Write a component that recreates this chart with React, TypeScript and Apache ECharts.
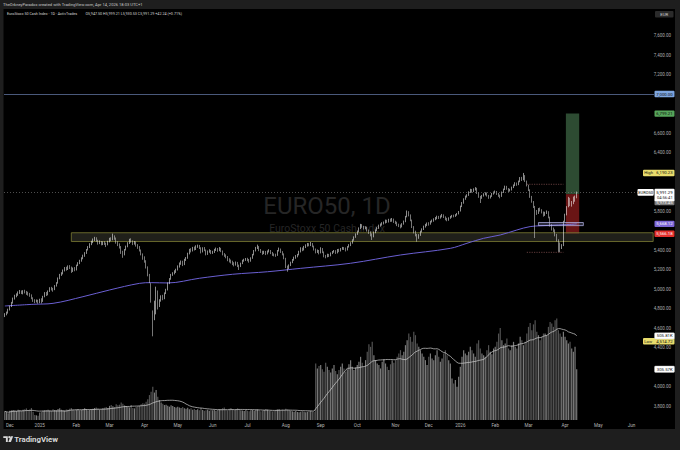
import React, { useEffect, useRef } from "react";
import * as echarts from "echarts";

// ---------- texts ----------
const HEADER_TEXT = "TheOrkneyParadox created with TradingView.com, Apr 14, 2026 18:03 UTC+1";
const SYMBOL_TEXT = "EuroStoxx 50 Cash Index · 1D · ActivTrades";
const OHLC_TEXT = "O5,947.50 H5,999.21 L5,930.53 C5,991.29 +42.24 (+0.71%)";
const WATERMARK = "EURO50, 1D";
const WATERMARK_SUB = "EuroStoxx 50 Cash Index";
const FOOTER = "TradingView";
const CURRENCY = "EUR";
const MONTH_NAMES = ["Jan", "Feb", "Mar", "Apr", "May", "Jun", "Jul", "Aug", "Sep", "Oct", "Nov", "Dec"];

// ---------- calendar ----------
const FIRST_DAY = "2024-11-27";
const SLOT_COUNT = 391;
const HOLIDAYS = [
  "2024-12-24", "2024-12-25", "2024-12-26", "2024-12-31", "2025-01-01", "2025-04-18", "2025-04-21",
  "2025-05-01", "2025-12-24", "2025-12-25", "2025-12-26", "2025-12-31", "2026-01-01", "2026-04-03",
  "2026-04-06", "2026-05-01",
];

// ---------- daily candles [open, close, low, high] ----------
const nov2024 = [[4725,4740,4712,4752],[4742,4751,4730,4768],[4755,4790,4748,4798]];
const dec2024 = [[4795,4818,4780,4830],[4822,4860,4815,4868],[4862,4900,4850,4912],[4905,4930,4892,4941],[4928,4938,4915,4955],[4940,4965,4930,4975],[4968,4972,4950,4990],[4975,4960,4948,4985],[4958,4975,4945,4988],[4978,4968,4955,4992],[4965,4962,4940,4980],[4960,4950,4932,4972],[4948,4938,4920,4960],[4935,4905,4895,4945],[4902,4885,4868,4915],[4882,4870,4855,4895],[4872,4880,4862,4892],[4882,4862,4850,4890]];
const jan2025 = [[4870,4887,4855,4900],[4890,4870,4852,4905],[4875,4920,4868,4930],[4925,4956,4915,4968],[4958,4940,4928,4970],[4945,4975,4935,4985],[4978,5007,4970,5018],[5010,5000,4985,5022],[4998,4990,4972,5012],[4995,5030,4988,5040],[5035,5058,5025,5070],[5062,5110,5055,5118],[5112,5144,5100,5155],[5148,5160,5135,5172],[5162,5190,5150,5200],[5195,5212,5180,5225],[5215,5200,5188,5228],[5205,5230,5195,5242],[5232,5223,5205,5245],[5220,5180,5165,5230],[5185,5210,5175,5220],[5212,5195,5182,5225]];
const feb2025 = [[5200,5240,5190,5250],[5245,5264,5235,5275],[5268,5290,5255,5300],[5292,5315,5280,5325],[5318,5340,5305,5352],[5345,5366,5330,5378],[5370,5400,5360,5410],[5405,5428,5395,5440],[5432,5460,5420,5470],[5462,5485,5450,5495],[5488,5505,5470,5518],[5508,5520,5492,5535],[5522,5500,5485,5530],[5498,5470,5455,5505],[5472,5485,5460,5498],[5482,5460,5448,5492],[5462,5475,5450,5488],[5478,5469,5452,5490],[5465,5455,5430,5475],[5458,5485,5448,5495]];
const mar2025 = [[5490,5510,5478,5525],[5512,5503,5490,5530],[5508,5540,5500,5568],[5538,5520,5505,5550],[5518,5480,5465,5528],[5478,5455,5440,5490],[5452,5434,5415,5468],[5430,5380,5360,5440],[5375,5349,5320,5392],[5355,5400,5345,5410],[5405,5434,5395,5445],[5438,5470,5428,5480],[5472,5503,5462,5515],[5505,5490,5475,5520],[5488,5469,5450,5498],[5472,5480,5455,5492],[5478,5451,5435,5488],[5448,5430,5412,5460],[5428,5400,5385,5440],[5395,5360,5345,5405],[5355,5315,5300,5365]];
const apr2025 = [[5320,5290,5270,5335],[5285,5229,5210,5295],[5225,5150,5130,5232],[5145,5092,5060,5155],[5040,4880,4860,5060],[4700,4650,4514.72,4780],[4700,4800,4680,4880],[4760,5000,4740,5024],[4960,4818,4790,4985],[4830,4880,4815,4895],[4885,4921,4870,4935],[4925,4900,4885,4940],[4905,4956,4895,4965],[4960,4990,4948,5002],[4995,5058,4985,5068],[5062,5100,5050,5112],[5105,5144,5095,5155],[5148,5160,5135,5172],[5162,5180,5150,5192],[5182,5195,5165,5208]];
const may2025 = [[5200,5230,5190,5242],[5235,5260,5220,5272],[5262,5280,5248,5292],[5278,5250,5235,5290],[5255,5300,5245,5310],[5302,5315,5288,5328],[5318,5360,5310,5372],[5362,5400,5355,5412],[5402,5390,5375,5418],[5392,5420,5385,5432],[5422,5410,5395,5435],[5412,5434,5400,5448],[5436,5440,5422,5455],[5442,5425,5410,5452],[5420,5380,5365,5428],[5385,5417,5375,5428],[5420,5400,5388,5430],[5398,5360,5345,5405],[5365,5383,5350,5395],[5385,5395,5372,5408],[5392,5370,5358,5400]];
const jun2025 = [[5372,5380,5360,5392],[5382,5400,5370,5412],[5402,5410,5390,5425],[5412,5395,5382,5420],[5398,5417,5388,5430],[5415,5390,5378,5422],[5388,5360,5345,5395],[5358,5345,5330,5368],[5348,5331,5315,5355],[5328,5300,5285,5338],[5302,5290,5272,5315],[5292,5280,5262,5302],[5278,5264,5245,5290],[5262,5250,5232,5275],[5252,5270,5240,5282],[5268,5240,5225,5278],[5238,5229,5195,5250],[5232,5260,5225,5270],[5262,5290,5255,5300],[5292,5297,5280,5310],[5300,5305,5288,5318]];
const jul2025 = [[5308,5300,5285,5320],[5298,5285,5270,5308],[5288,5315,5280,5325],[5318,5350,5310,5360],[5352,5390,5345,5400],[5392,5420,5385,5432],[5422,5434,5410,5455],[5432,5400,5388,5440],[5398,5385,5370,5410],[5382,5366,5350,5392],[5368,5380,5358,5392],[5382,5360,5348,5390],[5362,5383,5355,5395],[5385,5395,5375,5408],[5392,5370,5358,5400],[5372,5355,5340,5380],[5352,5349,5335,5365],[5350,5345,5330,5362],[5348,5390,5340,5400],[5392,5410,5385,5425],[5408,5383,5370,5415],[5380,5360,5345,5388],[5358,5320,5305,5365]];
const aug2025 = [[5315,5230,5215,5320],[5225,5212,5177,5240],[5215,5240,5205,5252],[5242,5270,5235,5280],[5272,5297,5265,5308],[5300,5320,5290,5332],[5322,5335,5310,5348],[5338,5349,5325,5360],[5352,5380,5345,5392],[5382,5417,5375,5428],[5415,5400,5388,5425],[5402,5430,5395,5442],[5432,5445,5420,5458],[5448,5460,5435,5472],[5458,5450,5438,5470],[5452,5469,5440,5482],[5465,5440,5428,5472],[5438,5410,5395,5445],[5408,5380,5365,5415],[5382,5395,5370,5405],[5392,5370,5355,5400]];
const sep2025 = [[5375,5417,5365,5428],[5412,5380,5368,5420],[5378,5340,5325,5385],[5338,5331,5315,5350],[5335,5350,5325,5362],[5352,5340,5328,5360],[5342,5366,5335,5375],[5368,5380,5358,5390],[5382,5390,5372,5400],[5388,5370,5360,5398],[5372,5400,5365,5410],[5402,5390,5378,5412],[5392,5410,5385,5420],[5412,5420,5402,5432],[5418,5417,5400,5430],[5415,5400,5385,5425],[5402,5430,5395,5440],[5432,5450,5425,5460],[5452,5469,5440,5480],[5472,5500,5465,5510],[5502,5530,5495,5540],[5532,5560,5525,5570]];
const oct2025 = [[5562,5588,5555,5600],[5590,5620,5582,5632],[5622,5656,5615,5668],[5654,5640,5628,5665],[5638,5625,5610,5648],[5628,5630,5612,5642],[5628,5605,5590,5638],[5602,5580,5565,5610],[5578,5560,5540,5590],[5555,5537,5503,5570],[5540,5580,5530,5590],[5582,5600,5572,5612],[5602,5622,5595,5635],[5625,5650,5618,5660],[5652,5660,5640,5672],[5662,5673,5650,5685],[5675,5680,5662,5692],[5682,5700,5672,5712],[5698,5690,5678,5710],[5692,5708,5682,5720],[5710,5700,5688,5722],[5702,5715,5690,5728],[5712,5690,5678,5722]];
const nov2025 = [[5688,5680,5665,5700],[5678,5660,5645,5690],[5658,5650,5635,5670],[5648,5639,5622,5662],[5642,5665,5632,5675],[5668,5690,5660,5702],[5692,5740,5685,5750],[5742,5793,5735,5805],[5790,5760,5745,5798],[5758,5708,5695,5765],[5705,5640,5625,5712],[5638,5588,5570,5645],[5585,5560,5540,5598],[5555,5520,5485,5565],[5525,5550,5515,5562],[5552,5588,5545,5598],[5590,5610,5580,5622],[5612,5640,5605,5650],[5642,5656,5630,5668],[5658,5670,5645,5682]];
const dec2025 = [[5672,5665,5650,5685],[5668,5690,5660,5700],[5692,5700,5682,5712],[5702,5715,5690,5725],[5718,5725,5705,5738],[5728,5740,5715,5752],[5742,5730,5718,5750],[5732,5745,5722,5755],[5748,5759,5735,5770],[5758,5740,5728,5765],[5738,5720,5705,5745],[5722,5710,5695,5730],[5712,5725,5700,5735],[5728,5740,5720,5750],[5742,5750,5732,5760],[5752,5745,5735,5762],[5748,5759,5740,5768],[5762,5770,5752,5780],[5772,5790,5765,5800]];
const jan2026 = [[5800,5844,5795,5855],[5848,5880,5840,5892],[5882,5920,5875,5930],[5922,5947,5915,5958],[5950,5960,5938,5972],[5962,5990,5955,6002],[5992,6015,5985,6028],[6018,6000,5988,6025],[6002,6020,5995,6032],[6022,6033,6010,6045],[6030,5990,5975,6038],[5988,5950,5935,5995],[5948,5930,5882,5955],[5935,5955,5925,5965],[5958,5970,5948,5982],[5972,5981,5960,5992],[5980,5960,5948,5990],[5958,5940,5925,5965],[5942,5947,5928,5960],[5950,5975,5945,5985],[5978,5990,5968,6000]];
const feb2026 = [[5992,5998,5980,6010],[5995,5980,5965,6005],[5978,5960,5945,5985],[5958,5947,5930,5968],[5950,5990,5945,6000],[5992,6020,5985,6030],[6022,6049,6015,6060],[6050,6030,6018,6058],[6028,6010,5995,6035],[6012,6015,6000,6028],[6018,6040,6010,6050],[6042,6060,6035,6072],[6062,6084,6055,6095],[6085,6070,6058,6092],[6072,6100,6065,6112],[6102,6135,6095,6148],[6138,6120,6108,6150],[6122,6165,6115,6190.23],[6160,6110,6098,6168],[6105,6067,6052,6112]];
const mar2026 = [[6062,6020,6005,6070],[6015,5947,5935,6022],[5945,5900,5885,5955],[5895,5844,5830,5902],[5840,5800,5523,5852],[5795,5776,5760,5810],[5780,5820,5770,5830],[5822,5810,5795,5835],[5808,5790,5775,5818],[5788,5759,5742,5795],[5762,5780,5750,5792],[5782,5793,5770,5805],[5790,5740,5725,5798],[5735,5656,5640,5742],[5652,5620,5600,5665],[5618,5605,5585,5630],[5600,5560,5540,5612],[5555,5503,5488,5565],[5500,5470,5380,5510],[5465,5434,5376,5478],[5438,5440,5410,5460],[5445,5690,5440,5700]];
const apr2026 = [[5695,5760,5688,5772],[5765,5840,5755,5850],[5845,5930,5838,5945],[5925,5870,5850,5935],[5872,5890,5845,5902],[5892,5900,5870,5948],[5905,5949.05,5895,5958],[5947.5,5991.29,5930.53,5999.21]];

// ---------- daily volume (thousands) ----------
const volNov2024 = [52,48,40];
const volDec2024 = [55,58,60,57,54,62,59,56,61,65,70,58,63,72,50,30,28,25];
const volJan2025 = [45,50,55,58,60,62,57,55,64,60,58,66,70,62,59,57,63,61,68,72,60,58];
const volFeb2025 = [62,65,58,60,63,70,66,59,61,64,68,72,75,69,63,66,70,74,78,72];
const volMar2025 = [85,90,82,78,95,88,92,105,98,87,84,80,76,90,72,70,78,82,86,95,100];
const volApr2025 = [98,110,125,150,170,200,165,180,140,120,105,98,90,92,85,80,88,84,78,75];
const volMay2025 = [80,75,72,78,70,68,74,65,70,62,66,60,64,58,72,60,55,58,62,56,60];
const volJun2025 = [58,62,55,60,64,66,70,75,62,58,68,72,65,60,63,70,66,59,57,54,60];
const volJul2025 = [56,52,58,60,55,62,64,58,53,57,60,66,62,55,58,52,54,60,63,65,58,62,60];
const volAug2025 = [68,62,58,55,52,50,54,48,46,50,52,49,47,50,53,56,51,48,340,310,325];
const volSep2025 = [330,305,290,345,320,300,285,310,330,295,275,300,320,340,310,290,305,335,360,320,300,315];
const volOct2025 = [330,350,380,345,320,360,410,455,440,470,390,360,340,330,310,350,365,340,320,300,335,360,345];
const volNov2025 = [360,380,400,420,390,410,450,480,520,500,470,530,510,460,440,420,400,380,360,330];
const volDec2025 = [380,400,370,360,390,420,380,350,370,400,420,390,360,340,250,220,240,200,260];
const volJan2026 = [320,380,420,400,390,410,440,420,400,380,460,480,430,400,390,380,420,450,410,395,430];
const volFeb2026 = [440,470,520,553,480,450,460,490,430,420,450,470,440,430,460,500,480,450,470,520];
const volMar2026 = [560,583,540,575,600,530,510,480,500,520,520,510,560,590,580,560,600,610,540,520,500,530];
const volApr2026 = [500,480,460,470,430,410,441,305.57];

// ---------- 200-day moving average, read at bar positions [bar, value] ----------
const ma200Points = [[0,4826],[17,4843],[29,4853],[47,4921],[63,4990],[81,5058],[88,5065],[98,5062],[117,5110],[137,5151],[158,5177],[178,5212],[208,5264],[238,5349],[268,5417],[278,5469],[288,5520],[298,5554],[308,5605],[316,5640],[328,5653],[338,5660],[344,5668.12]];

// ---------- levels / drawings ----------
const priceTicksHidden = [7000, 6800, 6200, 6000, 5600, 4200];
const horizontalLevel = 7000;
const lastPrice = 5991.29;
const zoneLow = 5487;
const zoneHigh = 5577;
const zoneStartBar = 40;
const positionEntry = 5973.45;
const positionTarget = 6799.21;
const positionStop = 5566.18;
const positionBars = [338, 345];
const rangeLines = [6074, 5376];
const rangeBars = [314, 336];
const maBox = [5650, 5682];
const maBoxBars = [321, 348];

const priceBadges = [
  { prefix: "", text: "7,000.00", value: 7000, bg: "#7ea6e0", fg: "#0c0c0c", shift: 0 },
  { prefix: "", text: "6,799.21", value: 6799.21, bg: "#57a55b", fg: "#0c0c0c", shift: 0 },
  { prefix: "High", text: "6,190.23", value: 6190.23, bg: "#e8dc6c", fg: "#111111", shift: 0 },
  { prefix: "", text: "5,973.45", value: 5973.45, bg: "#7b7b7b", fg: "#f2f2f2", shift: 8 },
  { prefix: "", text: "5,668.12", value: 5668.12, bg: "#7c66d6", fg: "#ffffff", shift: 0 },
  { prefix: "", text: "5,566.18", value: 5566.18, bg: "#e3302c", fg: "#ffffff", shift: 0 },
  { prefix: "Low", text: "4,514.72", value: 4514.72, bg: "#e8dc6c", fg: "#111111", shift: 5 },
];
const lastBadge = { name: "EURO50", price: "5,991.29", countdown: "04:56:41", value: 5991.29 };
const volumeBadges = [
  { text: "505.81K", value: 505.81 },
  { text: "305.57K", value: 305.57 },
];

const FONT = "Roboto, 'Liberation Sans', sans-serif";

const candles = [
  ...nov2024, ...dec2024, ...jan2025, ...feb2025, ...mar2025, ...apr2025, ...may2025, ...jun2025,
  ...jul2025, ...aug2025, ...sep2025, ...oct2025, ...nov2025, ...dec2025, ...jan2026, ...feb2026,
  ...mar2026, ...apr2026,
];
const volumes = [
  ...volNov2024, ...volDec2024, ...volJan2025, ...volFeb2025, ...volMar2025, ...volApr2025, ...volMay2025,
  ...volJun2025, ...volJul2025, ...volAug2025, ...volSep2025, ...volOct2025, ...volNov2025, ...volDec2025,
  ...volJan2026, ...volFeb2026, ...volMar2026, ...volApr2026,
];

function tradingDays(start: string, n: number): string[] {
  const out: string[] = [];
  const d = new Date(start + "T12:00:00Z");
  while (out.length < n) {
    const dow = d.getUTCDay();
    const s = d.toISOString().slice(0, 10);
    if (dow !== 0 && dow !== 6 && HOLIDAYS.indexOf(s) < 0) out.push(s);
    d.setUTCDate(d.getUTCDate() + 1);
  }
  return out;
}

const categories = tradingDays(FIRST_DAY, SLOT_COUNT);

const fmt2 = (v: number) =>
  v.toLocaleString("en-US", { minimumFractionDigits: 2, maximumFractionDigits: 2 });

function buildOption() {
  const volData = volumes.map((v, i) => {
    const c = candles[i];
    return { value: v, itemStyle: { color: c[1] >= c[0] ? "#7a7a7a" : "#525252" } };
  });
  const volMA = volumes.map((_, i) => {
    const s = Math.max(0, i - 19);
    const w = volumes.slice(s, i + 1);
    return w.reduce((a, b) => a + b, 0) / w.length;
  });
  return {
    animation: false,
    backgroundColor: "#1e1e1e",
    grid: [
      { left: 4, top: 16, width: 650, height: 409.5 },
      { left: 4, top: 300, width: 650, height: 120 },
    ],
    xAxis: [
      {
        type: "category", gridIndex: 0, data: categories, boundaryGap: true,
        axisLine: { show: false }, axisTick: { show: false }, axisLabel: { show: false }, splitLine: { show: false },
      },
      {
        type: "category", gridIndex: 1, data: categories, boundaryGap: true,
        axisLine: { show: false }, axisTick: { show: false }, splitLine: { show: false },
        axisLabel: {
          show: true, fontSize: 4.6, color: "#b4b4b4", margin: 3, fontFamily: FONT,
          interval: (index: number, value: string) =>
            index > 0 && value.slice(0, 7) !== categories[index - 1].slice(0, 7),
          formatter: (value: string) => {
            const m = parseInt(value.slice(5, 7), 10);
            return m === 1 ? value.slice(0, 4) : MONTH_NAMES[m - 1];
          },
        },
      },
    ],
    yAxis: [
      {
        type: "value", gridIndex: 0, position: "right", min: 3600, max: 7800, interval: 200,
        axisLine: { show: false }, axisTick: { show: false }, splitLine: { show: false },
        axisLabel: {
          show: true, fontSize: 4.5, color: "#ababab", align: "right", margin: 17, fontFamily: FONT,
          showMinLabel: false, showMaxLabel: false,
          formatter: (v: number) => (priceTicksHidden.indexOf(v) >= 0 ? "" : fmt2(v)),
        },
      },
      {
        type: "value", gridIndex: 1, min: 0, max: 721.6, show: false,
        axisLine: { show: false }, axisTick: { show: false }, splitLine: { show: false }, axisLabel: { show: false },
      },
    ],
    series: [
      {
        type: "bar", xAxisIndex: 1, yAxisIndex: 1, data: volData, barWidth: "72%", silent: true, z: 1,
      },
      {
        type: "line", xAxisIndex: 1, yAxisIndex: 1, data: volMA, symbol: "none", silent: true, z: 3,
        lineStyle: { color: "#d4d4d4", width: 0.7 },
      },
      {
        type: "candlestick", xAxisIndex: 0, yAxisIndex: 0, data: candles, barWidth: 1.1, silent: true, z: 4,
        itemStyle: { color: "#ffffff", color0: "#111111", borderColor: "#ffffff", borderColor0: "#d8d8d8", borderWidth: 0.55 },
        markLine: {
          silent: true, symbol: "none", label: { show: false },
          data: [
            { yAxis: horizontalLevel, lineStyle: { color: "#6a7fb0", width: 0.7, type: "solid" } },
            { yAxis: lastPrice, lineStyle: { color: "#707070", width: 0.7, type: [1, 2] } },
          ],
        },
        markArea: {
          silent: true,
          itemStyle: { color: "rgba(58,58,48,0.55)", borderColor: "#7c7c34", borderWidth: 0.8 },
          data: [[
            { xAxis: zoneStartBar, yAxis: zoneLow },
            { xAxis: SLOT_COUNT - 1, yAxis: zoneHigh },
          ]],
        },
      },
      {
        type: "line", xAxisIndex: 0, yAxisIndex: 0, data: ma200Points, smooth: 0.35, symbol: "none",
        silent: true, z: 3, lineStyle: { color: "#6a5fd2", width: 1 },
      },
    ],
  };
}

function buildGraphics(chart: any) {
  const py = (v: number) => chart.convertToPixel({ yAxisIndex: 0 }, v) as number;
  const vy = (v: number) => chart.convertToPixel({ yAxisIndex: 1 }, v) as number;
  const cx = (i: number) => chart.convertToPixel({ xAxisIndex: 0 }, i) as number;
  const bw = cx(1) - cx(0);
  const els: any[] = [];
  const txt = (text: string, x: number, y: number, size: number, fill: string, align = "left", z = 60, extra: any = {}) => ({
    type: "text", z, silent: true,
    style: { text, x, y, fill, fontSize: size, fontFamily: FONT, align, verticalAlign: "middle", ...extra },
  });

  // chart canvas
  els.push({ type: "rect", z: -10, silent: true, shape: { x: 3.5, y: 9, width: 671.5, height: 420 }, style: { fill: "#000000" } });
  // header / legend
  els.push(txt(HEADER_TEXT, 3, 4.8, 4.1, "#c9c9c9"));
  els.push(txt(SYMBOL_TEXT, 7, 14.2, 3.7, "#d6d6d6"));
  els.push(txt(OHLC_TEXT, 85.5, 14.2, 3.7, "#d6d6d6"));
  // watermark
  els.push(txt(WATERMARK, 327, 206, 24, "#262626", "center", -6));
  els.push(txt(WATERMARK_SUB, 327, 228, 10.5, "#262626", "center", -6));

  // long position tool
  const px0 = cx(positionBars[0]) - bw / 2;
  const px1 = cx(positionBars[1]) + bw / 2;
  els.push({ type: "rect", z: -4, silent: true,
    shape: { x: px0, y: py(positionTarget), width: px1 - px0, height: py(positionEntry) - py(positionTarget) },
    style: { fill: "#2d4b32" } });
  els.push({ type: "rect", z: -4, silent: true,
    shape: { x: px0, y: py(positionEntry), width: px1 - px0, height: py(positionStop) - py(positionEntry) },
    style: { fill: "#6a1515" } });

  // range dotted lines
  rangeLines.forEach((v) => {
    els.push({ type: "line", z: 5, silent: true,
      shape: { x1: cx(rangeBars[0]), y1: py(v), x2: cx(rangeBars[1]), y2: py(v) },
      style: { stroke: "#8a5454", lineWidth: 0.7, lineDash: [1.2, 1.2] } });
  });
  // small box at the moving average
  els.push({ type: "rect", z: 5, silent: true,
    shape: { x: cx(maBoxBars[0]), y: py(maBox[1]), width: cx(maBoxBars[1]) - cx(maBoxBars[0]), height: py(maBox[0]) - py(maBox[1]) },
    style: { fill: "rgba(170,170,235,0.25)", stroke: "#b9b9ec", lineWidth: 0.7 } });

  // axis badges
  const bx = 654.5, bwid = 20, bh = 6.4;
  els.push({ type: "rect", z: 50, silent: true, shape: { x: 655, y: 11, width: 18.5, height: 6.4, r: 1 }, style: { fill: "#2b2b2b" } });
  els.push(txt(CURRENCY, 664.2, 14.2, 4.3, "#d0d0d0", "center"));

  priceBadges.forEach((b) => {
    const y = py(b.value) + b.shift;
    const left = b.prefix ? 643 : bx;
    els.push({ type: "rect", z: 50, silent: true, shape: { x: left, y: y - bh / 2, width: bx + bwid - left, height: bh, r: 1 }, style: { fill: b.bg } });
    if (b.prefix) els.push(txt(b.prefix, 644.3, y, 4.2, b.fg, "left"));
    els.push(txt(b.text, bx + bwid - 1.8, y, 4.3, b.fg, "right"));
  });

  // last price badge
  const ly = py(lastBadge.value);
  els.push({ type: "rect", z: 50, silent: true, shape: { x: 637.5, y: ly - 3.3, width: 16.2, height: 6.6, r: 1 }, style: { fill: "#ffffff" } });
  els.push(txt(lastBadge.name, 645.6, ly, 4, "#000000", "center"));
  els.push({ type: "rect", z: 50, silent: true, shape: { x: bx, y: ly - 3.6, width: bwid, height: 12.4, r: 1 }, style: { fill: "#ffffff" } });
  els.push(txt(lastBadge.price, bx + bwid - 1.8, ly - 0.2, 4.3, "#000000", "right"));
  els.push(txt(lastBadge.countdown, bx + bwid - 1.8, ly + 5.4, 4.1, "#222222", "right"));

  volumeBadges.forEach((b) => {
    const y = vy(b.value);
    els.push({ type: "rect", z: 50, silent: true, shape: { x: bx, y: y - bh / 2, width: bwid, height: bh, r: 1 }, style: { fill: "#ffffff", stroke: "#bdbdbd", lineWidth: 0.4 } });
    els.push(txt(b.text, bx + bwid - 1.8, y, 4.3, "#111111", "right"));
  });

  // footer logo + wordmark
  els.push({ type: "polygon", z: 60, silent: true,
    shape: { points: [[3.3, 436.2], [7.8, 436.2], [7.8, 442], [5.9, 442], [5.9, 438], [3.3, 438]] },
    style: { fill: "#d8d8d8" } });
  els.push({ type: "circle", z: 60, silent: true, shape: { cx: 9.2, cy: 437.2, r: 1 }, style: { fill: "#d8d8d8" } });
  els.push({ type: "polygon", z: 60, silent: true,
    shape: { points: [[10.6, 436.2], [13.2, 436.2], [10.9, 442], [8.3, 442]] },
    style: { fill: "#d8d8d8" } });
  els.push(txt(FOOTER, 14.2, 439.3, 7.8, "#d8d8d8", "left", 60, { fontWeight: "bold" }));

  return els;
}

export default function App() {
  const ref = useRef<HTMLDivElement>(null);
  useEffect(() => {
    const el = ref.current;
    if (!el) return;
    const chart = echarts.init(el, null, { renderer: "svg" });
    chart.setOption(buildOption() as any);
    chart.setOption({ graphic: { elements: buildGraphics(chart) } } as any);
    return () => chart.dispose();
  }, []);
  return (
    <div
      ref={ref}
      style={{ position: "fixed", left: 0, top: 0, width: 680, height: 450 }}
    />
  );
}
